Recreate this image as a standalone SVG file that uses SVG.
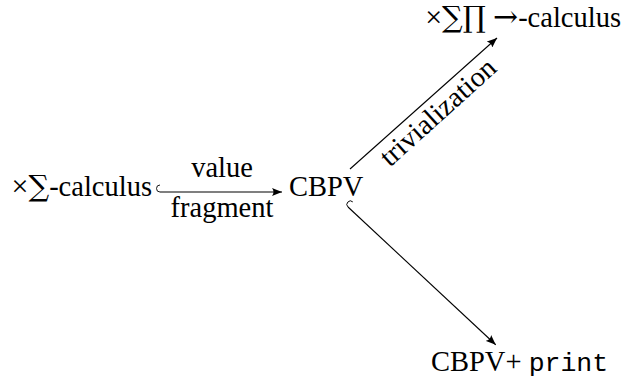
<svg xmlns="http://www.w3.org/2000/svg" width="622" height="383" viewBox="0 0 622 383">
  <style>
    .lbl { font-family: "Liberation Serif", "Times New Roman", serif; font-size: 28.5px; fill: #000; }
    .times { font-family: "Liberation Serif", serif; font-size: 30px; }
    .big { font-family: "DejaVu Serif", "Liberation Serif", serif; font-size: 29px; }
    .arr { font-family: "DejaVu Serif", "Liberation Serif", serif; font-size: 30px; }
    .mono { font-family: "Liberation Mono", "Courier New", monospace; font-size: 26.5px; }
    .edge { fill: none; stroke: #000; stroke-width: 1.1; }
    .hook { fill: none; stroke: #000; stroke-width: 0.9; }
  </style>
  <defs>
    <marker id="tip" viewBox="0 0 10 8" refX="10" refY="4" markerWidth="10" markerHeight="8" markerUnits="userSpaceOnUse" orient="auto">
      <path d="M0,0 Q3,4 0,8 L10,4 Z" fill="#000"/>
    </marker>
  </defs>

  <g id="node-xsigma">
    <text class="lbl" x="152" y="196" text-anchor="end"><tspan class="times">×</tspan><tspan class="big">∑</tspan>-calculus</text>
  </g>
  <g id="node-cbpv">
    <text class="lbl" x="289" y="196">CBPV</text>
  </g>
  <g id="node-xsigmapi">
    <text class="lbl" x="621" y="27" text-anchor="end"><tspan class="times">×</tspan><tspan class="big">∑∏</tspan> <tspan class="arr">→</tspan>-calculus</text>
  </g>
  <g id="node-cbpv-print">
    <text class="lbl" x="431" y="371">CBPV+ <tspan class="mono">print</tspan></text>
  </g>

  <g id="connectors">
    <!-- value fragment: hooked inclusion -->
    <g transform="translate(160,192)">
      <path class="hook" d="M0,-7 A3.5,3.5 0 0 0 0,0"/>
      <path class="edge" d="M0,0 L122,0" marker-end="url(#tip)"/>
    </g>
    <text class="lbl" x="222" y="177" text-anchor="middle">value</text>
    <text class="lbl" x="222" y="217" text-anchor="middle">fragment</text>

    <!-- trivialization -->
    <path class="edge" d="M350,169 L497,38" marker-end="url(#tip)"/>
    <text class="lbl" transform="translate(444,119) rotate(-42)" x="0" y="0" text-anchor="middle">trivialization</text>

    <!-- hooked inclusion into CBPV+print -->
    <g transform="translate(348,207) rotate(43)">
      <path class="hook" d="M0,-7 A3.5,3.5 0 0 0 0,0"/>
      <path class="edge" d="M0,0 L202,0" marker-end="url(#tip)"/>
    </g>
  </g>
</svg>
